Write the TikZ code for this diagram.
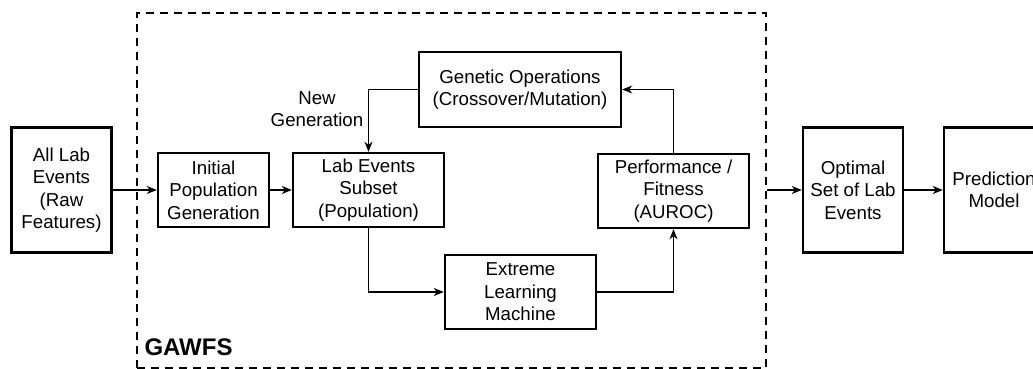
\documentclass[tikz,border=0pt]{standalone}
\usepackage{fontspec}
\setmainfont{Liberation Sans}
\usetikzlibrary{positioning,arrows.meta}
\tikzset{
  stage/.style={draw,line width=2.4pt,align=center,inner sep=2pt,
               font=\fontsize{18.7}{22.4}\selectfont,fill=white},
  tallstage/.style={stage,minimum width=100pt,minimum height=125pt},
  flow/.style={-{Stealth[length=10pt,width=8pt,inset=3pt]},line width=1.3pt},
  gawfsframe/.style={draw,line width=2pt,dash pattern=on 8pt off 6pt},
}
\begin{document}
\begin{tikzpicture}[x=1pt,y=-1pt]
  \useasboundingbox (0,0) rectangle (1033,369);
  % --- GAWFS frame ---
  \node[gawfsframe,minimum width=629pt,minimum height=355pt] (frame) at (451.5,190.5) {};
  \node[anchor=base west,font=\fontsize{24}{28}\selectfont\bfseries] (gawfs) at (141,355) {GAWFS};
  % --- stages ---
  \node[tallstage] (allLab) at (61.5,190) {All Lab\\Events\\(Raw\\Features)};
  \node[stage,minimum width=111pt,minimum height=74pt] (initPop) at (213.5,190) {Initial\\Population\\Generation};
  \node[stage,minimum width=151pt,minimum height=74pt] (labSubset) at (368.5,190) {Lab Events\\Subset\\(Population)};
  \node[stage,minimum width=202pt,minimum height=75pt] (genOps) at (520,89.5) {Genetic Operations\\(Crossover/Mutation)};
  \node[stage,minimum width=151pt,minimum height=74pt] (perf) at (673.5,191) {Performance /\\Fitness\\(AUROC)};
  \node[stage,minimum width=151pt,minimum height=74pt] (elm) at (520.5,292) {Extreme\\Learning\\Machine};
  \node[tallstage] (optimal) at (853,190) {Optimal\\Set of Lab\\Events};
  \node[tallstage] (predict) at (994,190) {Prediction\\Model};
  % --- flow arrows ---
  \draw[flow] (allLab) -- (initPop);
  \draw[flow] (initPop) -- (labSubset);
  \draw[flow] (labSubset.south) |- (elm.west);
  \draw[flow] (elm.east) -| (perf.south);
  \draw[flow] (perf.north) |- (genOps.east);
  \draw[flow] (genOps.west) -| (labSubset.north);
  \node[align=center,font=\fontsize{18.7}{22.4}\selectfont] (newGen) at (317,109) {New\\Generation};
  \draw[flow] (frame.east |- optimal.west) -- (optimal.west);
  \draw[flow] (optimal) -- (predict);
\end{tikzpicture}
\end{document}
